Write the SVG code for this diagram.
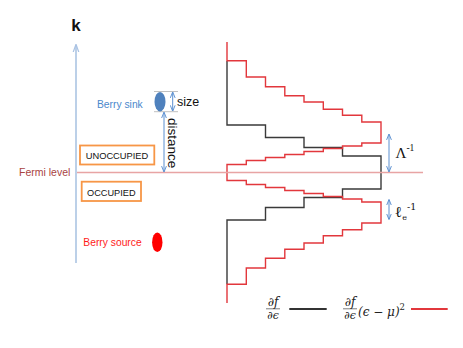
<svg xmlns="http://www.w3.org/2000/svg" width="463" height="348" viewBox="0 0 463 348">
<style>
.lbl{font-family:"Liberation Sans",Arial,sans-serif;}
.math{font-family:"DejaVu Serif","Liberation Serif",serif;font-style:italic;fill:#222;}
.blk{fill:none;stroke:#3a3a3a;stroke-width:1.4;}
.red{fill:none;stroke:#e2373c;stroke-width:1.4;}
.barr{stroke:#5b8fd0;stroke-width:1;fill:none;}
.box{fill:#fff;stroke:#f79646;stroke-width:1.8;}
</style>
<defs>
<marker id="ah" viewBox="0 0 10 10" refX="9" refY="5" markerWidth="6" markerHeight="6" orient="auto-start-reverse" markerUnits="userSpaceOnUse">
<path d="M0,1 L10,5 L0,9" fill="none" stroke="#5b8fd0" stroke-width="1.6"/>
</marker>
<marker id="kah" viewBox="0 0 10 10" refX="9" refY="5" markerWidth="8" markerHeight="8" orient="auto" markerUnits="userSpaceOnUse">
<path d="M0,1.5 L10,5 L0,8.5" fill="none" stroke="#a9c2e3" stroke-width="1.5"/>
</marker>
</defs>
<rect width="463" height="348" fill="#fff"/>

<g id="axis">
<line x1="76" y1="263" x2="76" y2="45" stroke="#bcd0e8" stroke-width="2" marker-end="url(#kah)"/>
<text x="76" y="31" class="lbl" font-size="17" font-weight="bold" text-anchor="middle" fill="#111">k</text>
</g>

<g id="curves">
<path class="blk" d="M227,61 V125 H265.5 V137.5 H304 V147.5 H342.5 V156 H381 V189 H342.5 V197.5 H304 V207.5 H265.5 V220 H227 V284.3"/>
<path class="red" d="M227,42 V60.7 H246.3 V77 H265.5 V86.7 H284.8 V95.7 H304 V102 H323.3 V109.3 H342.5 V115.3 H361.8 V122 H381 V143 H361.8 V146 H342.5 V148.5 H323.3 V151.5 H304 V154.5 H284.8 V157.5 H265.5 V160.5 H246.3 V164.5 H227 V180.5 H246.3 V184.5 H265.5 V187.5 H284.8 V190.5 H304 V193.5 H323.3 V196.5 H342.5 V199 H361.8 V202 H381 V223 H361.8 V229.7 H342.5 V235.7 H323.3 V243 H304 V249.3 H284.8 V258.3 H265.5 V268 H246.3 V284.3 H227 V303"/>
</g>

<g id="fermi">
<line x1="77" y1="172.5" x2="423" y2="172.5" stroke="#e8a4a4" stroke-width="1.5"/>
<text x="19" y="176" class="lbl" font-size="10.5" fill="#a9433f">Fermi level</text>
</g>

<g id="berry-sink">
<line x1="154" y1="91.5" x2="178" y2="91.5" stroke="#c0c0c0" stroke-width="1"/>
<line x1="154" y1="111.7" x2="178" y2="111.7" stroke="#c0c0c0" stroke-width="1"/>
<ellipse cx="160" cy="101.7" rx="5.5" ry="9.7" fill="#4f81bd"/>
<text x="97" y="107.5" class="lbl" font-size="10.3" fill="#4a88cc">Berry sink</text>
</g>

<g id="size">
<line class="barr" x1="172.7" y1="92.5" x2="172.7" y2="110.7" marker-start="url(#ah)" marker-end="url(#ah)"/>
<text x="177" y="106" class="lbl" font-size="12.5" fill="#111">size</text>
</g>

<g id="distance">
<line class="barr" x1="164" y1="112.7" x2="164" y2="171.5" marker-start="url(#ah)" marker-end="url(#ah)"/>
<text transform="translate(168,118) rotate(90)" class="lbl" font-size="13.5" fill="#111">distance</text>
</g>

<g id="unoccupied">
<rect class="box" x="80" y="145.5" width="74.3" height="19"/>
<text x="117" y="159" class="lbl" font-size="9.3" text-anchor="middle" fill="#111">UNOCCUPIED</text>
</g>

<g id="occupied">
<rect class="box" x="81.7" y="181.7" width="59.3" height="19.3"/>
<text x="111.3" y="195.5" class="lbl" font-size="9.2" text-anchor="middle" fill="#111">OCCUPIED</text>
</g>

<g id="berry-source">
<ellipse cx="157.3" cy="242.3" rx="5.2" ry="9.8" fill="#ff0000"/>
<text x="83.3" y="245.5" class="lbl" font-size="10.3" fill="#ff1a1a">Berry source</text>
</g>

<g id="lambda">
<line class="barr" x1="389" y1="134.5" x2="389" y2="171.5" marker-start="url(#ah)" marker-end="url(#ah)"/>
<text x="395.5" y="157.5" font-family="Liberation Serif,serif" font-size="15" fill="#111">Λ<tspan font-size="9.5" dy="-6.5">-1</tspan></text>
</g>

<g id="ell">
<line class="barr" x1="389" y1="200" x2="389" y2="219" marker-start="url(#ah)" marker-end="url(#ah)"/>
<text x="395" y="216.5" font-family="DejaVu Serif,serif" font-size="15" fill="#111">ℓ<tspan font-size="8" dy="3">e</tspan><tspan font-size="9.5" dy="-10">-1</tspan></text>
</g>

<g id="legend">
<text x="273" y="305.8" class="math" font-size="12" text-anchor="middle">∂f</text>
<line x1="266" y1="308.8" x2="280" y2="308.8" stroke="#222" stroke-width="0.6"/>
<text x="273" y="318.8" class="math" font-size="11" text-anchor="middle">∂ϵ</text>
<line x1="289.3" y1="309" x2="326.7" y2="309" stroke="#333" stroke-width="2"/>
<text x="350" y="305.8" class="math" font-size="12" text-anchor="middle">∂f</text>
<line x1="343" y1="308.8" x2="357" y2="308.8" stroke="#222" stroke-width="0.6"/>
<text x="350" y="318.8" class="math" font-size="11" text-anchor="middle">∂ϵ</text>
<text x="358" y="315.5" class="math" font-size="12">(ϵ − μ)<tspan font-size="8.5" dy="-6" font-style="normal">2</tspan></text>
<line x1="411" y1="309" x2="447.7" y2="309" stroke="#e2373c" stroke-width="2"/>
</g>
</svg>
